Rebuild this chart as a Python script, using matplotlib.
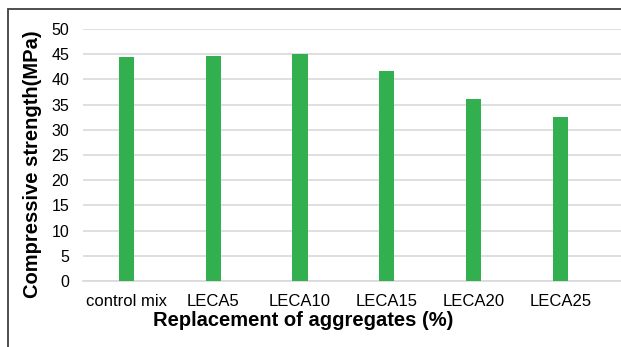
import matplotlib.pyplot as plt
from matplotlib.patches import Rectangle

# values
mixes = ['control mix', 'LECA5', 'LECA10', 'LECA15', 'LECA20', 'LECA25']
strength = [44.4, 44.6, 45.0, 41.6, 36.1, 32.6]
yticks = [0, 5, 10, 15, 20, 25, 30, 35, 40, 45, 50]


def main():
	plt.rcParams['font.family'] = ['Liberation Sans', 'DejaVu Sans']
	fig = plt.figure(figsize=(6.21, 3.47), dpi=100)
	W, H = 621, 347
	# plot area in pixels: x 83..621, y 29..281
	ax = fig.add_axes([83 / W, 1 - 281 / H, (621 - 83) / W, (281 - 29) / H])

	x = list(range(len(mixes)))
	ax.bar(x, strength, width=0.175, color='#32b04f', zorder=3)

	ax.set_xlim(-0.5, 5.7)
	ax.set_ylim(0, 50)
	ax.set_yticks(yticks)
	ax.set_xticks(x)
	ax.set_xticklabels(mixes)
	ax.yaxis.grid(True, color='#d9d9d9', linewidth=1.2, zorder=0)
	ax.tick_params(axis='both', length=0, colors='#000000')
	ax.tick_params(axis='y', pad=10, labelsize=11.5)
	ax.tick_params(axis='x', pad=9, labelsize=12)
	for s in ['top', 'right', 'left']:
		ax.spines[s].set_visible(False)
	ax.spines['bottom'].set_color('#d9d9d9')
	ax.spines['bottom'].set_linewidth(1.2)

	fig.text(33 / W, 1 - 164 / H, 'Compressive strength(MPa)', rotation=90,
		ha='center', va='center', fontsize=14.5, fontweight='bold')
	fig.text(303 / W, 1 - 320 / H, 'Replacement of aggregates (%)',
		ha='center', va='center', fontsize=14.5, fontweight='bold')

	# dark frame visible on the left and top of the reference
	fig.patches.append(Rectangle((8 / W, -0.1), 1.2, 1 - 8.5 / H + 0.1,
		transform=fig.transFigure, fill=False, edgecolor='#404040', linewidth=1.3))

	fig.savefig('out.png', dpi=100)


if __name__ == "__main__":
	main()
